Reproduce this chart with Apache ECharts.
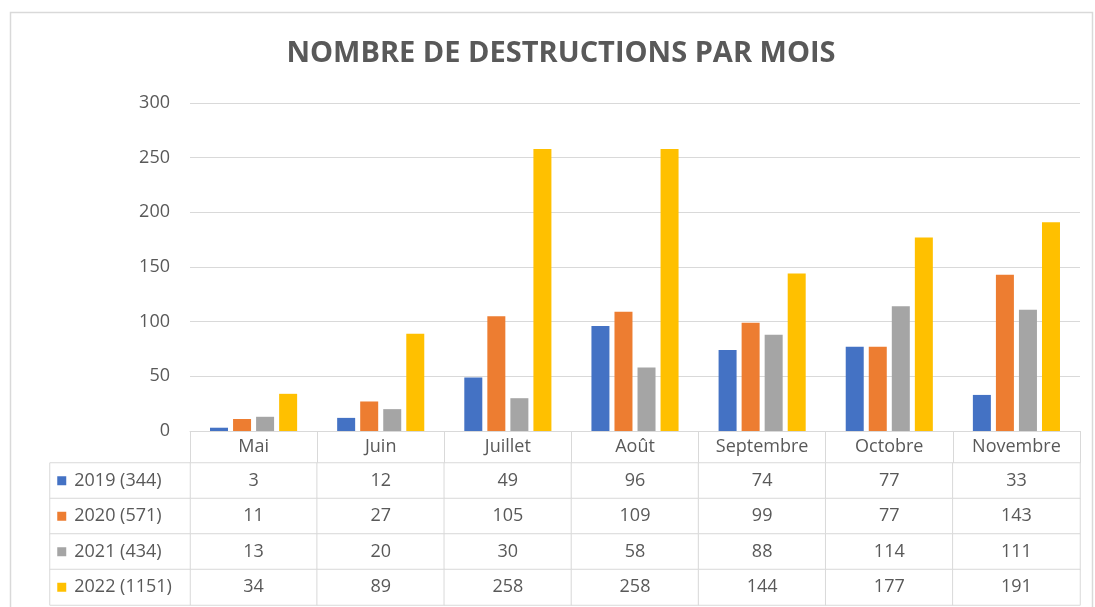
<!DOCTYPE html>
<html>
<head>
<meta charset="utf-8">
<script src="https://cdn.jsdelivr.net/npm/echarts@6/dist/echarts.min.js"></script>
<style>html,body{margin:0;padding:0;background:#fff}#c{width:1095px;height:607px}</style>
</head>
<body>
<div id="c"></div>
<script>
const months = ['Mai', 'Juin', 'Juillet', 'Août', 'Septembre', 'Octobre', 'Novembre'];
const seriesNames = ['2019 (344)', '2020 (571)', '2021 (434)', '2022 (1151)'];
const v2019 = [3, 12, 49, 96, 74, 77, 33];
const v2020 = [11, 27, 105, 109, 99, 77, 143];
const v2021 = [13, 20, 30, 58, 88, 114, 111];
const v2022 = [34, 89, 258, 258, 144, 177, 191];
const yMin = 0, yMax = 300, yStep = 50;
const titleText = 'NOMBRE DE DESTRUCTIONS PAR MOIS';

const values = [v2019, v2020, v2021, v2022];
const colors = ['#4472C4', '#ED7D31', '#A5A5A5', '#FFC000'];
const txt = '#595959';
const line = '#d9d9d9';
const font = 'Open Sans';
const fs = 18;

const cellData = [];
values.forEach((arr, r) => arr.forEach((v, c) => cellData.push([c, r, v])));
const labelData = seriesNames.map((n, r) => [0, r, r]);
const rich = { t: { fontSize: fs, color: txt, fontFamily: font, padding: [0, 0, 0, 8] } };
colors.forEach((c, i) => { rich['s' + i] = { width: 9, height: 9, backgroundColor: c }; });

const chart = echarts.init(document.getElementById('c'));
chart.setOption({
  animation: false,
  textStyle: { fontFamily: font },
  title: {
    text: titleText, left: 556, top: 34, textAlign: 'center',
    textStyle: { fontSize: 29, fontWeight: 'bold', color: txt, fontFamily: font }
  },
  graphic: [{
    type: 'rect', shape: { x: 10.5, y: 12.5, width: 1082, height: 600 },
    style: { fill: 'none', stroke: line, lineWidth: 1.5 }, silent: true
  }],
  grid: [
    { left: 190, right: 15, top: 103, bottom: 176 },
    { left: 190, right: 15, top: 463, height: 142 },
    { left: 50, width: 140, top: 463, height: 142 }
  ],
  xAxis: [
    {
      gridIndex: 0, type: 'category', data: months,
      axisLine: { lineStyle: { color: line, width: 1 } },
      axisTick: { show: true, length: 32, lineStyle: { color: line } },
      axisLabel: { fontSize: fs, color: txt, margin: 7, fontFamily: font }
    },
    { gridIndex: 1, type: 'category', data: months, show: false },
    { gridIndex: 2, type: 'category', data: [''], show: false }
  ],
  yAxis: [
    {
      gridIndex: 0, type: 'value', min: yMin, max: yMax, interval: yStep,
      axisLine: { show: false }, axisTick: { show: false },
      splitLine: { lineStyle: { color: line, width: 1 } },
      axisLabel: { fontSize: fs, color: txt, margin: 20, fontFamily: font }
    },
    { gridIndex: 1, type: 'category', data: seriesNames, inverse: true, show: false },
    { gridIndex: 2, type: 'category', data: seriesNames, inverse: true, show: false }
  ],
  series: values.map((arr, i) => ({
    type: 'bar', name: seriesNames[i], data: arr,
    xAxisIndex: 0, yAxisIndex: 0,
    barWidth: 18, barGap: '28%',
    itemStyle: { color: colors[i] },
    emphasis: { disabled: true }
  })).concat([
    {
      type: 'heatmap', xAxisIndex: 1, yAxisIndex: 1, data: cellData,
      itemStyle: { color: '#fff', borderColor: line, borderWidth: 1 },
      label: { show: true, fontSize: fs, color: txt, fontFamily: font, formatter: p => String(p.value[2]) },
      emphasis: { disabled: true }
    },
    {
      type: 'heatmap', xAxisIndex: 2, yAxisIndex: 2, data: labelData,
      itemStyle: { color: '#fff', borderColor: line, borderWidth: 1 },
      label: {
        show: true, position: 'insideLeft', distance: 8, rich: rich,
        formatter: p => '{s' + p.value[2] + '|}{t|' + seriesNames[p.value[2]] + '}'
      },
      emphasis: { disabled: true }
    }
  ])
});
</script>
</body>
</html>
